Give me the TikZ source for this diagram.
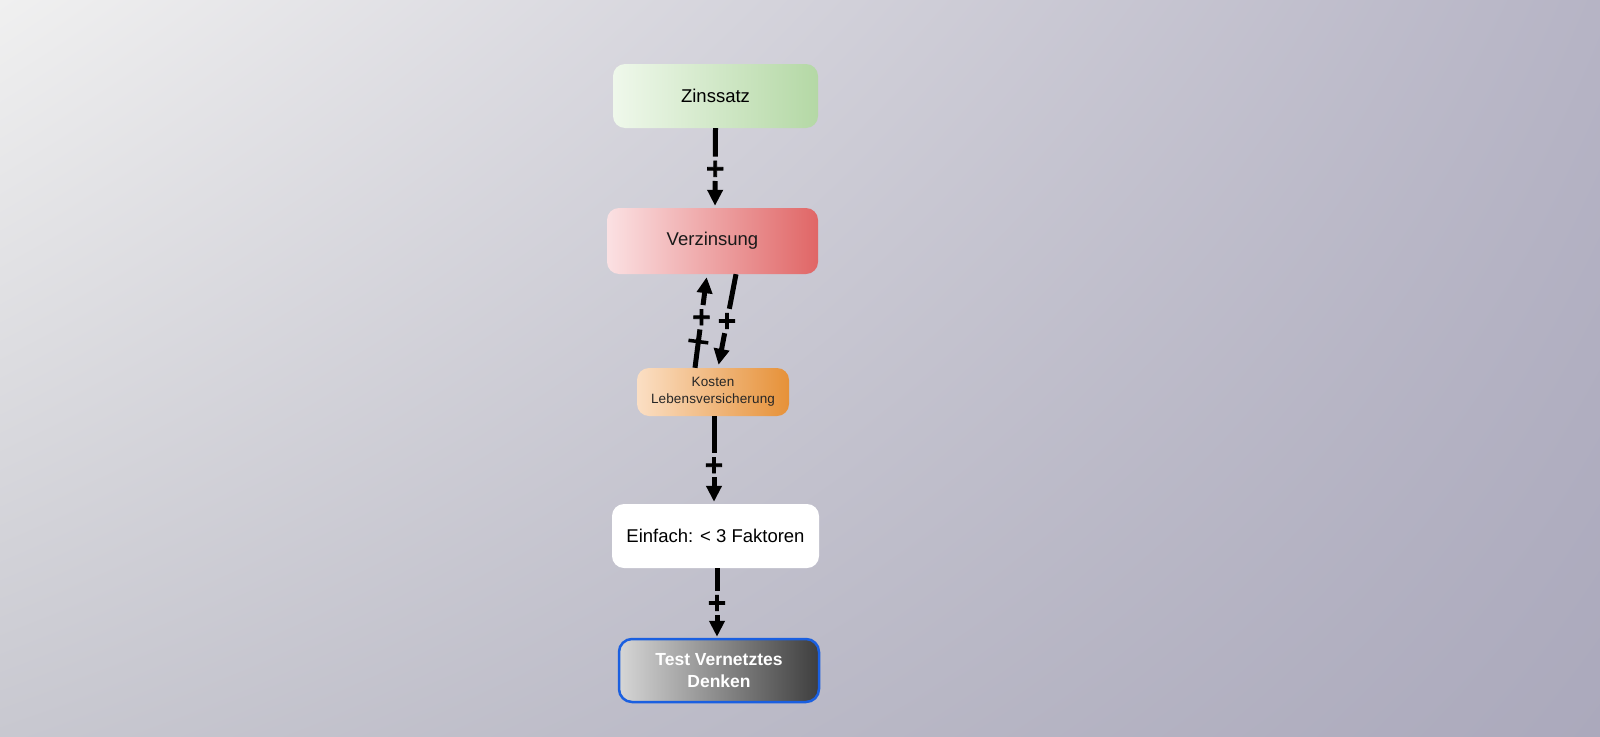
\documentclass[tikz,border=0pt]{standalone}
\usepackage{fontspec}
\setmainfont{Liberation Sans}
\newfontfamily\plusfont[FakeBold=3]{DejaVu Sans}
\usetikzlibrary{arrows.meta,calc,shadings}
\definecolor{bgtl}{HTML}{F0F0F0}
\definecolor{bgtr}{HTML}{B6B4C5}
\definecolor{bgbl}{HTML}{C8C8D0}
\definecolor{bgbr}{HTML}{ABA9BC}
\definecolor{zl}{HTML}{EFF8EB}
\definecolor{zr}{HTML}{B4D8A5}
\definecolor{vl}{HTML}{FBE1E3}
\definecolor{vr}{HTML}{E06666}
\definecolor{kl}{HTML}{FBDFC4}
\definecolor{kr}{HTML}{E69138}
\definecolor{tl}{HTML}{D6D6D6}
\definecolor{tr}{HTML}{3E3E3E}
\definecolor{tb}{HTML}{1A5FE0}
\begin{document}
\begin{tikzpicture}[x=1pt,y=-1pt,
  box/.style={rounded corners=12pt, inner sep=0pt, align=center},
  big/.style={font=\fontsize{18.5}{22}\selectfont},
  lnk/.style={line width=5pt, black},
  arr/.style={lnk, -{Triangle[length=16pt,width=15pt]}},
  pl/.style={font=\fontsize{25}{25}\plusfont\bfseries, inner sep=0pt, minimum size=24pt},
  bar/.style={line width=3.5pt, black}]
\useasboundingbox (0,0) rectangle (1600,736);
\shade[upper left=bgtl, upper right=bgtr, lower left=bgbl, lower right=bgbr] (0,0) rectangle (1600,736);

\node[box, big, left color=zl, middle color=zr!80!zl, right color=zr, minimum width=205pt, minimum height=64pt] (Z) at (715.5,96) {Zinssatz};
\node[box, big, left color=vl, middle color=vr!80!vl, right color=vr, minimum width=211pt, minimum height=66pt, text=black!90] (V) at (712.5,241) {Verzinsung};
\node[box, font=\fontsize{13.5}{17}\selectfont\addfontfeature{LetterSpace=1}, left color=kl, middle color=kr!80!kl, right color=kr, minimum width=152pt, minimum height=48pt, text=black!85] (K) at (713,392) {Kosten\\Lebensversicherung};
\node[box, big, fill=white, minimum width=207pt, minimum height=64pt] (E) at (715.5,536) {Einfach: < 3 Faktoren};
\node[box, rounded corners=13pt, font=\fontsize{17.5}{21.7}\selectfont\bfseries, text=white, left color=tl, middle color=tr!75!tl, right color=tr, draw=tb, line width=2.5pt, minimum width=200pt, minimum height=63pt] (T) at (719,670.5) {Test Vernetztes\\Denken};

% Zinssatz -> Verzinsung
\coordinate (z1) at (Z.south);
\coordinate (v1) at ([xshift=2.5pt]V.north);
\path (z1) -- node[pl, pos=.51] (p1) {+} (v1);
\draw[lnk] (z1) -- (p1);
\draw[arr, shorten >=2pt] (p1) -- (v1);

% Kosten -> Verzinsung
\coordinate (k2) at ([xshift=-18pt]K.north);
\coordinate (v2) at ([xshift=-5.5pt]V.south);
\path (k2) -- node[pl, pos=.54] (p2) {+} coordinate[pos=.28] (b2) (v2);
\draw[lnk] (k2) -- (p2);
\draw[arr, shorten >=3pt] (p2) -- (v2);
\draw[bar] ($(b2)!10pt!90:(v2)$) -- ($(b2)!10pt!-90:(v2)$);

% Verzinsung -> Kosten
\coordinate (v3) at ([xshift=23.5pt]V.south);
\coordinate (k3) at ([xshift=5pt]K.north);
\path (v3) -- node[pl, pos=.5] (p3) {+} (k3);
\draw[lnk] (v3) -- (p3);
\draw[arr, shorten >=3pt] (p3) -- (k3);

% Kosten -> Einfach
\coordinate (k4) at ([xshift=1pt]K.south);
\coordinate (e4) at ([xshift=-1.5pt]E.north);
\path (k4) -- node[pl, pos=.56] (p4) {+} (e4);
\draw[lnk] (k4) -- (p4);
\draw[arr, shorten >=2pt] (p4) -- (e4);

% Einfach -> Test
\coordinate (e5) at ([xshift=1.5pt]E.south);
\coordinate (t5) at ([xshift=-2pt]T.north);
\path (e5) -- node[pl, pos=.5] (p5) {+} (t5);
\draw[lnk] (e5) -- (p5);
\draw[arr, shorten >=1pt] (p5) -- (t5);
\end{tikzpicture}
\end{document}
